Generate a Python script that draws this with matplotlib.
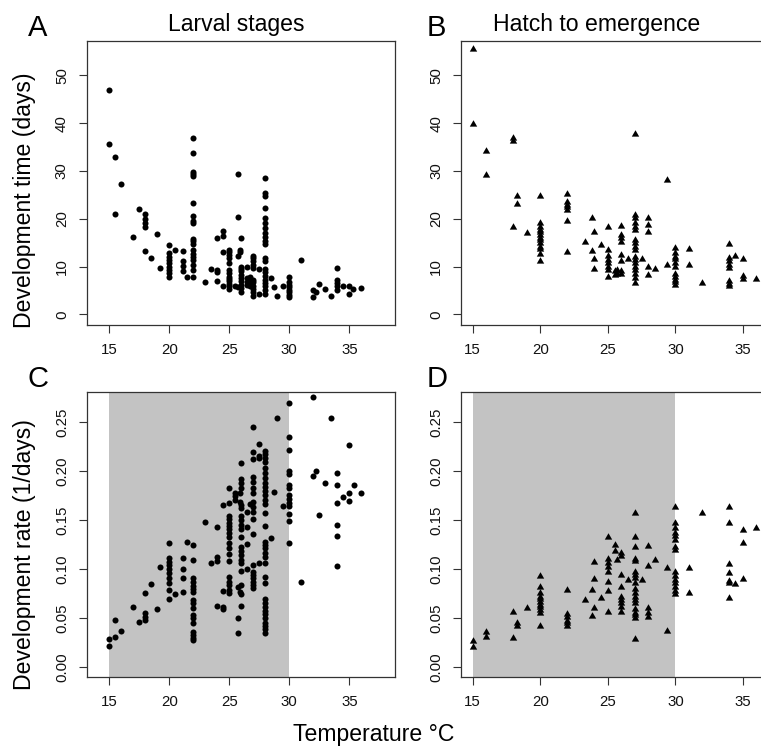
import matplotlib
matplotlib.use("Agg")
import matplotlib.pyplot as plt
import numpy as np

plt.rcParams['font.family'] = ['Liberation Sans', 'DejaVu Sans']

# ---------------- data ----------------
# Panel A: larval stages, development time (days)
larval_time_temps = [15, 15.5, 16, 17, 17.5, 18, 18.5, 19, 19.2, 20, 20.5, 21.1, 21.5, 22,
                     23, 23.5, 24, 24.5, 25, 25.5, 25.7, 25.9, 26, 26.5, 26.7, 27, 27.5, 28,
                     28.5, 28.7, 29, 29.5, 30, 31, 32, 32.2, 32.5, 33, 33.5, 34, 34.5, 35, 35.3, 36]
larval_time_days = [
    [46.9, 35.7], [33.0, 21.1], [27.3], [16.2], [22.0],
    [21.0, 19.9, 19.2, 18.4, 13.3], [11.8], [16.9], [9.8],
    [14.6, 12.8, 12.1, 11.4, 10.7, 10.0, 9.3, 8.6, 7.8], [13.5],
    [13.2, 11.1, 10.2, 9.0], [7.8],
    [37.0, 33.8, 29.8, 29.3, 29.0, 23.3, 20.6, 19.6, 19.2, 15.8, 15.3, 14.8, 13.5, 12.6,
     12.0, 11.4, 10.4, 9.2, 7.9],
    [6.7], [9.5], [16.0, 9.2, 8.8, 6.9], [17.5, 16.5, 13.0, 6.0],
    [13.5, 13.0, 12.5, 11.8, 10.7, 9.3, 8.6, 7.9, 7.4, 6.9, 6.4, 5.9, 5.3],
    [5.9], [29.4, 20.3, 12.3, 5.7], [13.4, 13.0],
    [16.0, 10.0, 9.5, 9.0, 8.3, 7.6, 6.9, 6.2, 5.5, 4.6],
    [10.0, 7.6, 6.7, 6.2], [7.9, 6.9, 6.0],
    [12.3, 11.8, 11.1, 10.4, 9.7, 7.3, 6.7, 6.0, 5.3, 4.6, 3.9], [9.5, 4.3],
    [28.5, 25.4, 24.7, 22.2, 20.2, 19.1, 18.1, 17.0, 16.2, 15.3, 14.7, 11.8, 11.1, 9.5,
     8.8, 8.1, 7.3, 6.6, 5.9, 5.2, 4.3],
    [7.6], [5.7], [3.9], [6.0], [7.9, 6.7, 6.2, 5.7, 5.2, 4.6, 4.1, 3.6], [11.4],
    [5.2, 3.6], [4.8], [6.4], [5.3], [3.9], [9.7, 7.3, 6.6, 5.9, 5.2], [5.9],
    [5.9, 4.3], [5.3], [5.6]]

# Panel B: hatch to emergence, development time (days)
hatch_time_temps = [15, 16, 18, 18.3, 19, 20, 22, 23.3, 23.8, 24, 24.5, 25, 25.5, 25.7, 26,
                    26.5, 27, 27.5, 28, 28.5, 29.4, 30, 31, 32, 34, 34.4, 35, 36]
hatch_time_days = [
    [55.5, 39.9], [34.2, 29.1], [37.0, 36.3, 18.3], [24.7, 23.2], [17.0],
    [24.8, 19.2, 18.4, 17.7, 17.2, 16.6, 16.1, 15.6, 14.9, 14.2, 13.7, 12.7, 11.1],
    [25.2, 23.6, 23.0, 22.5, 21.8, 19.5, 13.0], [15.2], [20.1, 13.2], [17.2, 11.6, 9.6],
    [14.6], [18.3, 13.4, 12.3, 11.4, 10.7, 10.0, 9.3, 7.8], [9.0, 8.3], [9.3, 8.5],
    [18.5, 16.7, 15.9, 15.1, 12.5, 11.1, 9.0, 8.5], [11.6],
    [37.7, 20.9, 20.1, 19.2, 18.4, 17.6, 15.6, 14.9, 14.1, 13.4, 12.1, 11.4, 10.7, 9.9,
     9.2, 8.5, 7.7, 6.6],
    [11.7], [20.2, 18.7, 17.2, 10.0, 8.3], [9.5], [28.2, 10.3],
    [13.9, 12.8, 12.1, 11.6, 10.7, 10.0, 8.4, 7.8, 7.3, 6.7, 6.2], [13.7, 10.3], [6.6],
    [14.8, 11.8, 11.1, 10.4, 9.7, 6.9, 6.4, 6.0], [12.3], [11.6, 8.1, 7.5], [7.4]]

# Panel C: larval stages, development rate (1/days)
larval_rate_temps = [15, 15.5, 16, 17, 17.5, 18, 18.5, 19, 19.2, 20, 20.5, 21.1, 21.5, 22,
                     23, 23.5, 24, 24.5, 25, 25.5, 25.7, 25.9, 26, 26.5, 26.7, 27, 27.5, 28,
                     28.5, 28.7, 29, 29.5, 30, 31, 32, 32.2, 32.5, 33, 33.5, 34, 34.5, 35, 35.4, 36]
larval_rate_values = [
    [0.0286, 0.0215], [0.0477, 0.0307], [0.0368], [0.0614], [0.0457],
    [0.0754, 0.0546, 0.0512, 0.0477], [0.0849], [0.0593], [0.102],
    [0.1265, 0.1115, 0.1074, 0.104, 0.0996, 0.0955, 0.0904, 0.0853, 0.0784, 0.0689],
    [0.074], [0.111, 0.0999, 0.0907, 0.0761], [0.128],
    [0.1248, 0.1088, 0.0904, 0.0863, 0.0829, 0.0795, 0.0761, 0.0682, 0.0648, 0.0597,
     0.0529, 0.0495, 0.0443, 0.0358, 0.0324, 0.0297, 0.0269],
    [0.1484], [0.1064], [0.1426, 0.1125, 0.1081, 0.0624], [0.166, 0.0774, 0.0614, 0.0587],
    [0.1832, 0.168, 0.1545, 0.1508, 0.1473, 0.1439, 0.1405, 0.1371, 0.133, 0.1262, 0.1211,
     0.1153, 0.1081, 0.0914, 0.087, 0.0836, 0.0784, 0.075],
    [0.178, 0.1746, 0.1705], [0.0812, 0.0495, 0.0348], [0.1773, 0.1688, 0.0767],
    [0.208, 0.192, 0.1883, 0.1825, 0.166, 0.162, 0.1542, 0.15, 0.145, 0.1405, 0.133,
     0.1228, 0.1187, 0.1143, 0.1091, 0.1064, 0.0982, 0.0836, 0.074, 0.0624],
    [0.1586, 0.1432, 0.1255, 0.0999], [0.167],
    [0.2449, 0.22, 0.2121, 0.1937, 0.1893, 0.1825, 0.1773, 0.1688, 0.1637, 0.1586, 0.1508,
     0.1357, 0.104, 0.0972, 0.0938, 0.0904, 0.087, 0.0836, 0.0808],
    [0.2275, 0.2155, 0.2132, 0.1057],
    [0.2207, 0.2173, 0.2138, 0.2098, 0.2029, 0.1978, 0.1927, 0.1883, 0.1842, 0.1801,
     0.1756, 0.1705, 0.1664, 0.1569, 0.1439, 0.1279, 0.1245, 0.1211, 0.1166, 0.1125,
     0.1064, 0.0921, 0.0853, 0.0689, 0.0648, 0.0607, 0.0573, 0.0539, 0.0495, 0.045,
     0.0416, 0.0382, 0.0348],
    [0.1313], [0.179], [0.2548], [0.1647],
    [0.2694, 0.2347, 0.2217, 0.2002, 0.1971, 0.1859, 0.1825, 0.1756, 0.1712, 0.1678,
     0.1644, 0.1562, 0.149, 0.1269],
    [0.087], [0.2763, 0.1951], [0.2002], [0.1548], [0.1876], [0.2541],
    [0.1978, 0.1859, 0.1671, 0.145, 0.1337, 0.1033], [0.1739], [0.2268, 0.1773, 0.1698],
    [0.1862], [0.178]]

# Panel D: hatch to emergence, development rate (1/days)
hatch_rate_temps = [15, 16, 18, 18.3, 19, 20, 22, 23.3, 23.8, 24, 24.5, 25, 25.5, 25.7, 26,
                    26.5, 27, 27.5, 28, 28.5, 29.4, 30, 31, 32, 34, 34.4, 35, 36]
hatch_rate_values = [
    [0.0263, 0.0198], [0.0358, 0.0307], [0.0563, 0.029], [0.0443, 0.0416], [0.0604],
    [0.0928, 0.0819, 0.075, 0.0716, 0.0689, 0.0658, 0.0631, 0.0607, 0.058, 0.0546, 0.0416],
    [0.0784, 0.0539, 0.0505, 0.0471, 0.0443, 0.0416], [0.0682], [0.0784, 0.0518],
    [0.1074, 0.0894, 0.0597], [0.0706],
    [0.1323, 0.1098, 0.1057, 0.1016, 0.0972, 0.087, 0.0778, 0.0563], [0.1245, 0.1187],
    [0.1091], [0.116, 0.1136, 0.0938, 0.0819, 0.0716, 0.0682, 0.0648, 0.0607, 0.0556],
    [0.0887],
    [0.1576, 0.1323, 0.1221, 0.1105, 0.1085, 0.0969, 0.0938, 0.0904, 0.0853, 0.0791,
     0.075, 0.0716, 0.0682, 0.0648, 0.0587, 0.0553, 0.0529, 0.0501, 0.028],
    [0.0887], [0.1238, 0.103, 0.0597, 0.0546, 0.0512], [0.1091], [0.1006, 0.0368],
    [0.163, 0.1467, 0.1415, 0.1371, 0.1337, 0.1296, 0.1228, 0.1194, 0.0972, 0.0928,
     0.0887, 0.0853, 0.0812, 0.0778, 0.074],
    [0.1006, 0.0757], [0.1576], [0.1637, 0.1467, 0.105, 0.0955, 0.0877, 0.0853, 0.0699],
    [0.0846], [0.1398, 0.1269, 0.09], [0.1415]]

x_ticks = [15, 20, 25, 30, 35]
time_ticks = [0, 10, 20, 30, 40, 50]
rate_ticks = [0.00, 0.05, 0.10, 0.15, 0.20, 0.25]
rate_tick_labels = ["0.00", "0.05", "0.10", "0.15", "0.20", "0.25"]
shade_range = (15, 30)


def flatten(temps, groups):
    xs, ys = [], []
    for t, g in zip(temps, groups):
        xs.extend([t] * len(g))
        ys.extend(g)
    return np.array(xs), np.array(ys)


# ---------------- figure ----------------
W, H = 761, 746
fig = plt.figure(figsize=(W / 100, H / 100), dpi=100)


def px_axes(left, top, right, bottom):
    return fig.add_axes([left / W, 1 - bottom / H, (right - left) / W, (bottom - top) / H])


axA = px_axes(87, 41, 395, 325)
axB = px_axes(461.3, 41, 767.8, 325)
axC = px_axes(87, 392.3, 395, 677.3)
axD = px_axes(461.3, 392.3, 767.8, 677.3)

tri = [(-1, -0.577), (1, -0.577), (0, 1.155), (-1, -0.577)]

xA = (13.14, 38.81)
xB = (14.16, 36.84)

for ax, xl in ((axA, xA), (axC, xA), (axB, xB), (axD, xB)):
    ax.set_xlim(*xl)
    ax.set_xticks(x_ticks)
    for s in ax.spines.values():
        s.set_linewidth(0.9)
        s.set_color('#333333')
    ax.tick_params(direction='out', length=6, width=0.8, color='#333333',
                   labelsize=10.8, pad=7, labelcolor='#111111')

for ax in (axA, axB):
    ax.set_ylim(-2.2, 57.2)
    ax.set_yticks(time_ticks)
    ax.set_yticklabels([str(t) for t in time_ticks], rotation=90, va='center')

for ax in (axC, axD):
    ax.set_ylim(-0.0108, 0.2808)
    ax.set_yticks(rate_ticks)
    ax.set_yticklabels(rate_tick_labels, rotation=90, va='center')
    ax.axvspan(shade_range[0], shade_range[1], color='#c3c3c3', lw=0, zorder=0)

dot_s = 19
tri_s = 38
x, y = flatten(larval_time_temps, larval_time_days)
axA.scatter(x, y, s=dot_s, c='black', marker='o', linewidths=0, zorder=3)
x, y = flatten(hatch_time_temps, hatch_time_days)
axB.scatter(x, y, s=tri_s, c='black', marker=tri, linewidths=0, zorder=3)
x, y = flatten(larval_rate_temps, larval_rate_values)
axC.scatter(x, y, s=dot_s, c='black', marker='o', linewidths=0, zorder=3)
x, y = flatten(hatch_rate_temps, hatch_rate_values)
axD.scatter(x, y, s=tri_s, c='black', marker=tri, linewidths=0, zorder=3)

# texts
fs = 16.6
fig.text(38 / W, 1 - 36 / H, "A", fontsize=21, ha='center', va='baseline')
fig.text(436 / W, 1 - 36 / H, "B", fontsize=21, ha='center', va='baseline')
fig.text(38 / W, 1 - 386.7 / H, "C", fontsize=21, ha='center', va='baseline')
fig.text(436.7 / W, 1 - 386.7 / H, "D", fontsize=21, ha='center', va='baseline')
fig.text(236 / W, 1 - 31 / H, "Larval stages", fontsize=fs, ha='center', va='baseline')
fig.text(597 / W, 1 - 31 / H, "Hatch to emergence", fontsize=fs, ha='center', va='baseline')
fig.text(25 / W, 1 - 200 / H, "Development time (days)", fontsize=fs, rotation=90,
         ha='center', va='center')
fig.text(25 / W, 1 - 555 / H, "Development rate (1/days)", fontsize=fs, rotation=90,
         ha='center', va='center')
fig.text(373.5 / W, 1 - 740.7 / H, "Temperature \u00b0C", fontsize=fs, ha='center',
         va='baseline')

fig.savefig("out.png", dpi=100)
